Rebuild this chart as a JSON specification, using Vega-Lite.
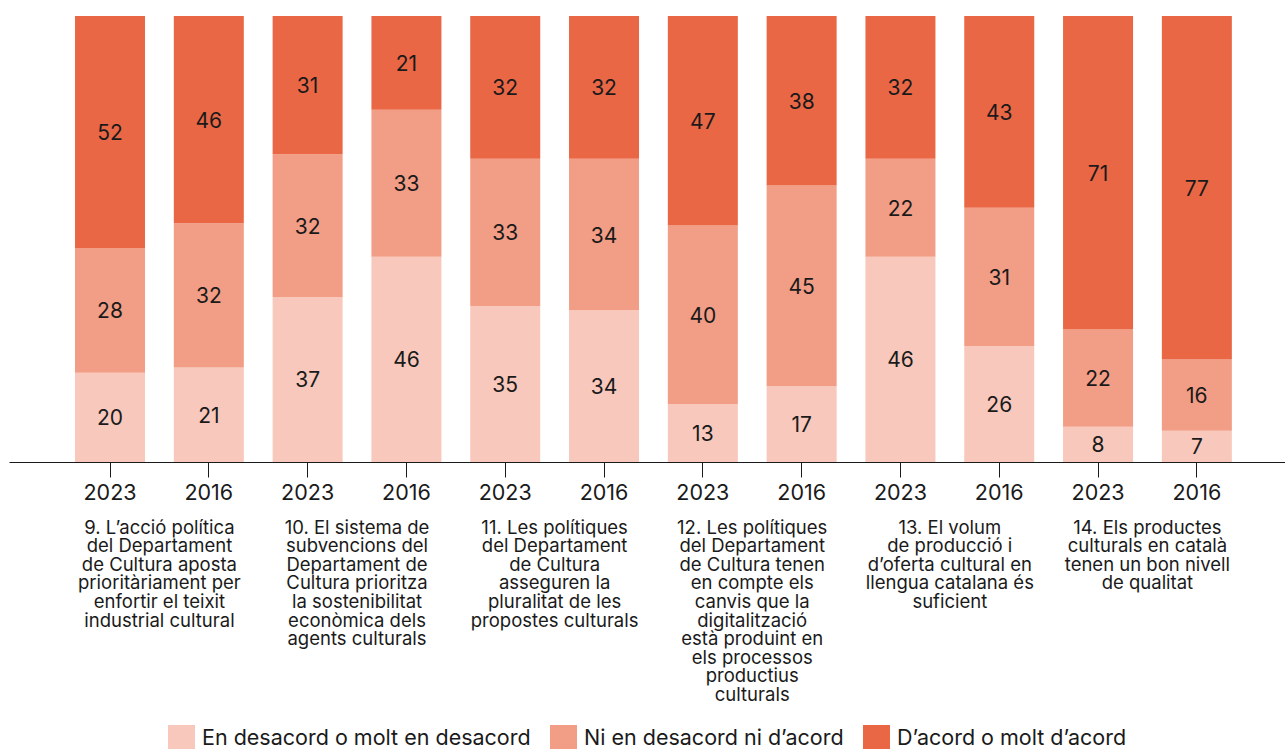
{
  "$schema": "https://vega.github.io/schema/vega-lite/v6.json",
  "width": 1276,
  "height": 446,
  "autosize": {"type": "none"},
  "padding": {"left": 9, "top": 16, "right": 0, "bottom": 287},
  "background": "white",
  "config": {
    "view": {"stroke": null},
    "font": "Inter",
    "legend": {"layout": {"bottom": {"anchor": "middle"}}}
  },
  "resolve": {"scale": {"x": "independent"}, "axis": {"x": "independent"}},
  "layer": [
    {
      "data": {
        "values": [
          {"bar": "9|2023", "cat": "En desacord o molt en desacord", "ord": 1, "value": 20},
          {"bar": "9|2023", "cat": "Ni en desacord ni d’acord", "ord": 2, "value": 28},
          {"bar": "9|2023", "cat": "D’acord o molt d’acord", "ord": 3, "value": 52},
          {"bar": "9|2016", "cat": "En desacord o molt en desacord", "ord": 1, "value": 21},
          {"bar": "9|2016", "cat": "Ni en desacord ni d’acord", "ord": 2, "value": 32},
          {"bar": "9|2016", "cat": "D’acord o molt d’acord", "ord": 3, "value": 46},
          {"bar": "10|2023", "cat": "En desacord o molt en desacord", "ord": 1, "value": 37},
          {"bar": "10|2023", "cat": "Ni en desacord ni d’acord", "ord": 2, "value": 32},
          {"bar": "10|2023", "cat": "D’acord o molt d’acord", "ord": 3, "value": 31},
          {"bar": "10|2016", "cat": "En desacord o molt en desacord", "ord": 1, "value": 46},
          {"bar": "10|2016", "cat": "Ni en desacord ni d’acord", "ord": 2, "value": 33},
          {"bar": "10|2016", "cat": "D’acord o molt d’acord", "ord": 3, "value": 21},
          {"bar": "11|2023", "cat": "En desacord o molt en desacord", "ord": 1, "value": 35},
          {"bar": "11|2023", "cat": "Ni en desacord ni d’acord", "ord": 2, "value": 33},
          {"bar": "11|2023", "cat": "D’acord o molt d’acord", "ord": 3, "value": 32},
          {"bar": "11|2016", "cat": "En desacord o molt en desacord", "ord": 1, "value": 34},
          {"bar": "11|2016", "cat": "Ni en desacord ni d’acord", "ord": 2, "value": 34},
          {"bar": "11|2016", "cat": "D’acord o molt d’acord", "ord": 3, "value": 32},
          {"bar": "12|2023", "cat": "En desacord o molt en desacord", "ord": 1, "value": 13},
          {"bar": "12|2023", "cat": "Ni en desacord ni d’acord", "ord": 2, "value": 40},
          {"bar": "12|2023", "cat": "D’acord o molt d’acord", "ord": 3, "value": 47},
          {"bar": "12|2016", "cat": "En desacord o molt en desacord", "ord": 1, "value": 17},
          {"bar": "12|2016", "cat": "Ni en desacord ni d’acord", "ord": 2, "value": 45},
          {"bar": "12|2016", "cat": "D’acord o molt d’acord", "ord": 3, "value": 38},
          {"bar": "13|2023", "cat": "En desacord o molt en desacord", "ord": 1, "value": 46},
          {"bar": "13|2023", "cat": "Ni en desacord ni d’acord", "ord": 2, "value": 22},
          {"bar": "13|2023", "cat": "D’acord o molt d’acord", "ord": 3, "value": 32},
          {"bar": "13|2016", "cat": "En desacord o molt en desacord", "ord": 1, "value": 26},
          {"bar": "13|2016", "cat": "Ni en desacord ni d’acord", "ord": 2, "value": 31},
          {"bar": "13|2016", "cat": "D’acord o molt d’acord", "ord": 3, "value": 43},
          {"bar": "14|2023", "cat": "En desacord o molt en desacord", "ord": 1, "value": 8},
          {"bar": "14|2023", "cat": "Ni en desacord ni d’acord", "ord": 2, "value": 22},
          {"bar": "14|2023", "cat": "D’acord o molt d’acord", "ord": 3, "value": 71},
          {"bar": "14|2016", "cat": "En desacord o molt en desacord", "ord": 1, "value": 7},
          {"bar": "14|2016", "cat": "Ni en desacord ni d’acord", "ord": 2, "value": 16},
          {"bar": "14|2016", "cat": "D’acord o molt d’acord", "ord": 3, "value": 77}
        ]
      },
      "transform": [
        {"stack": "value", "groupby": ["bar"], "sort": [{"field": "ord", "order": "ascending"}], "offset": "normalize", "as": ["y0", "y1"]},
        {"calculate": "(datum.y0 + datum.y1) / 2", "as": "ymid"}
      ],
      "encoding": {
        "x": {
          "field": "bar",
          "type": "nominal",
          "sort": null,
          "scale": {"type": "band", "paddingInner": 0.2915, "paddingOuter": 0.603, "align": 0.554},
          "axis": {
            "orient": "bottom",
            "title": null,
            "labelExpr": "split(datum.label, '|')[1]",
            "labelAngle": 0,
            "labelFontSize": 21.5,
            "labelColor": "#1a1a1a",
            "labelPadding": 5,
            "tickSize": 15,
            "tickColor": "#1a1a1a",
            "domainColor": "#1a1a1a",
            "tickWidth": 1,
            "domainWidth": 1.2
          }
        }
      },
      "layer": [
        {
          "mark": {"type": "bar"},
          "encoding": {
            "y": {"field": "y0", "type": "quantitative", "scale": {"domain": [0, 1]}, "axis": null},
            "y2": {"field": "y1"},
            "color": {
              "field": "cat",
              "type": "nominal",
              "scale": {
                "domain": ["En desacord o molt en desacord", "Ni en desacord ni d’acord", "D’acord o molt d’acord"],
                "range": ["#F7C8BB", "#F29D85", "#EA6746"]
              },
              "legend": {
                "orient": "bottom",
                "direction": "horizontal",
                "title": null,
                "symbolType": "square",
                "symbolSize": 729,
                "symbolStrokeWidth": 0,
                "symbolOpacity": 1,
                "labelFontSize": 21.5,
                "labelColor": "#1a1a1a",
                "labelOffset": 7,
                "columnPadding": 19,
                "labelLimit": 400,
                "offset": 21
              }
            }
          }
        },
        {
          "mark": {"type": "text", "fontSize": 21, "color": "#1a1a1a", "baseline": "middle", "dy": 2},
          "encoding": {
            "y": {"field": "ymid", "type": "quantitative", "scale": {"domain": [0, 1]}},
            "text": {"field": "value", "type": "quantitative"}
          }
        }
      ]
    },
    {
      "data": {
        "values": [
          {"statement": "9. L’acció política|del Departament|de Cultura aposta|prioritàriament per|enfortir el teixit|industrial cultural"},
          {"statement": "10. El sistema de|subvencions del|Departament de|Cultura prioritza|la sostenibilitat|econòmica dels|agents culturals"},
          {"statement": "11. Les polítiques|del Departament|de Cultura|asseguren la|pluralitat de les|propostes culturals"},
          {"statement": "12. Les polítiques|del Departament|de Cultura tenen|en compte els|canvis que la|digitalització|està produint en|els processos|productius|culturals"},
          {"statement": "13. El volum|de producció i|d’oferta cultural en|llengua catalana és|suficient"},
          {"statement": "14. Els productes|culturals en català|tenen un bon nivell|de qualitat"}
        ]
      },
      "mark": {"type": "text", "text": ""},
      "encoding": {
        "x": {
          "field": "statement",
          "type": "nominal",
          "sort": null,
          "scale": {"type": "band", "paddingInner": 0, "paddingOuter": 0.2288, "align": 0.571},
          "axis": {
            "orient": "bottom",
            "title": null,
            "domain": false,
            "ticks": false,
            "tickSize": 0,
            "labelExpr": "split(datum.label, '|')",
            "labelAngle": 0,
            "labelFontSize": 18.5,
            "labelLineHeight": 18.6,
            "labelColor": "#1a1a1a",
            "labelPadding": 56,
            "labelLimit": 300,
            "labelOverlap": false,
            "labelBound": false
          }
        }
      }
    }
  ]
}
